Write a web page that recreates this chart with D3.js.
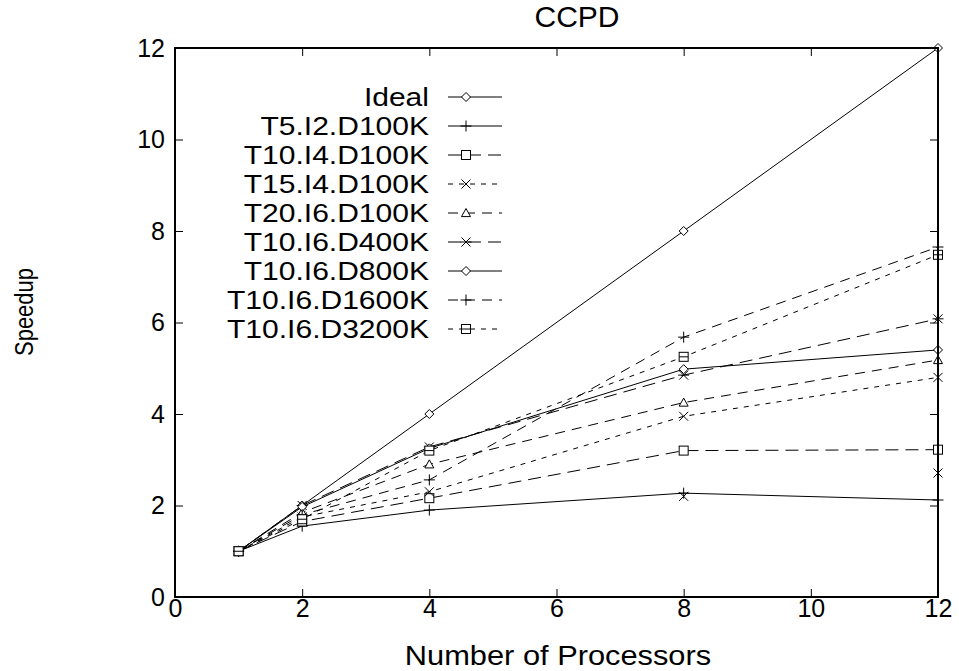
<!DOCTYPE html>
<html><head><meta charset="utf-8">
<script src="https://cdn.jsdelivr.net/npm/d3@7"></script>
<style>body{margin:0;background:#fff}svg{display:block}text{font-family:"Liberation Sans",Arial,Helvetica,sans-serif;fill:#000}</style>
</head><body>
<svg id="c" width="959" height="671"></svg>
<script>
// ---- data ----
const xValues = [1, 2, 4, 8, 12];
const seriesNames = ["Ideal","T5.I2.D100K","T10.I4.D100K","T15.I4.D100K","T20.I6.D100K","T10.I6.D400K","T10.I6.D800K","T10.I6.D1600K","T10.I6.D3200K"];
const ideal     = [1, 2.00, 4.00, 8.00, 12.00];
const t5i2d100  = [1, 1.55, 1.90, 2.27, 2.12];
const t10i4d100 = [1, 1.65, 2.16, 3.20, 3.22];
const t15i4d100 = [1, 1.75, 2.30, 3.95, 4.80];
const t20i6d100 = [1, 1.85, 2.90, 4.25, 5.18];
const t10i6d400 = [1, 2.00, 3.28, 4.85, 6.08];
const t10i6d800 = [1, 1.97, 3.25, 4.98, 5.40];
const t10i6d1600= [1, 1.80, 2.56, 5.68, 7.65];
const t10i6d3200= [1, 1.70, 3.20, 5.25, 7.48];
const extraX = [8, 12];          // isolated "x" markers without a line
const extraY = [2.20, 2.71];
const xTicks = [0, 2, 4, 6, 8, 10, 12];
const yTicks = [0, 2, 4, 6, 8, 10, 12];
const titleText = "CCPD", xLabel = "Number of Processors", yLabel = "Speedup";

const seriesValues = [ideal,t5i2d100,t10i4d100,t15i4d100,t20i6d100,t10i6d400,t10i6d800,t10i6d1600,t10i6d3200];
const dashes  = [null, null, "13,7", "5,6", "10,7", "13,7", null, "10,7", "5,6"];
const markers = ["diamond","plus","box","cross","triangle","star","diamond","plus","boxline"];

// ---- chart ----
const svg = d3.select("#c");
const L=175, R=938, T=48, B=597;
const x = d3.scaleLinear().domain([0,12]).range([L,R]);
const y = d3.scaleLinear().domain([0,12]).range([B,T]);

function marker(g, type, cx, cy){
  const s=4.5;
  const p = g.append("g").attr("transform",`translate(${cx},${cy})`)
    .attr("fill","none").attr("stroke","#000").attr("stroke-width",1);
  if(type==="diamond") p.append("path").attr("d",`M0,${-s}L${s},0L0,${s}L${-s},0Z`).attr("fill","#fff");
  if(type==="plus") p.append("path").attr("d",`M${-s-1},0H${s+1}M0,${-s-1}V${s+1}`);
  if(type==="box") p.append("rect").attr("x",-s).attr("y",-s).attr("width",2*s).attr("height",2*s).attr("fill","#fff");
  if(type==="boxline"){ p.append("rect").attr("x",-s).attr("y",-s).attr("width",2*s).attr("height",2*s).attr("fill","#fff"); p.append("path").attr("d",`M${-s},0H${s}`);}
  if(type==="cross") p.append("path").attr("d",`M${-s},${-s}L${s},${s}M${-s},${s}L${s},${-s}`);
  if(type==="triangle") p.append("path").attr("d",`M0,${-s}L${s},${s*0.8}L${-s},${s*0.8}Z`).attr("fill","#fff");
  if(type==="star") p.append("path").attr("d",`M${-s},${-s}L${s},${s}M${-s},${s}L${s},${-s}M${-s-1},0H${s+1}`);
}
function stext(parent, tx, ty, txt, size, anchor, sx, extra){
  return parent.append("text")
    .attr("transform",`translate(${tx},${ty}) scale(${sx},1)${extra||""}`)
    .attr("text-anchor",anchor).style("font-size",size+"px").text(txt);
}

// axes (ticks inside, mirrored)
const ax = g => g.selectAll(".domain").remove();
const fontTick = "25px";
svg.append("g").attr("transform",`translate(0,${B})`)
  .call(d3.axisBottom(x).tickValues(xTicks).tickSize(-8).tickPadding(2).tickFormat(d3.format("d"))).call(ax)
  .selectAll("text").style("font-size",fontTick).attr("font-family",null);
svg.append("g").attr("transform",`translate(0,${T})`)
  .call(d3.axisTop(x).tickValues(xTicks).tickSize(-8).tickFormat("")).call(ax);
svg.append("g").attr("transform",`translate(${L},0)`)
  .call(d3.axisLeft(y).tickValues(yTicks).tickSize(-8).tickPadding(10).tickFormat(d3.format("d"))).call(ax)
  .selectAll("text").style("font-size",fontTick).attr("font-family",null);
svg.append("g").attr("transform",`translate(${R},0)`)
  .call(d3.axisRight(y).tickValues(yTicks).tickSize(-8).tickFormat("")).call(ax);
svg.selectAll(".tick line").attr("stroke","#000").attr("stroke-width",1);

// series
const line = d3.line().x((d,i)=>x(xValues[i])).y(d=>y(d));
const plot = svg.append("g");
seriesValues.forEach((vals,k)=>{
  plot.append("path").attr("d",line(vals)).attr("fill","none").attr("stroke","#000")
    .attr("stroke-width",1).attr("stroke-dasharray",dashes[k]);
});
seriesValues.forEach((vals,k)=>{
  vals.forEach((v,i)=>marker(plot, markers[k], x(xValues[i]), y(v)));
});
extraX.forEach((xv,i)=>marker(plot,"cross",x(xv),y(extraY[i])));

// frame
svg.append("rect").attr("x",L).attr("y",T).attr("width",R-L).attr("height",B-T)
  .attr("fill","none").attr("stroke","#000").attr("stroke-width",2);

// legend
const lg = svg.append("g");
seriesNames.forEach((name,k)=>{
  const ry = 97 + k*29;
  stext(lg, 429, ry + 9.3, name, 25.9, "end", 1.16);
  lg.append("path").attr("d",`M448,${ry}H502`).attr("stroke","#000").attr("stroke-width",1)
    .attr("stroke-dasharray",dashes[k]);
  marker(lg, markers[k], 466, ry);
});

// titles
stext(svg, 577, 27, titleText, 30, "middle", 1);
stext(svg, 558, 665, xLabel, 28, "middle", 1.1);
stext(svg, 33, 312, yLabel, 22, "middle", 1.2, " rotate(-90)");
</script>
</body></html>
